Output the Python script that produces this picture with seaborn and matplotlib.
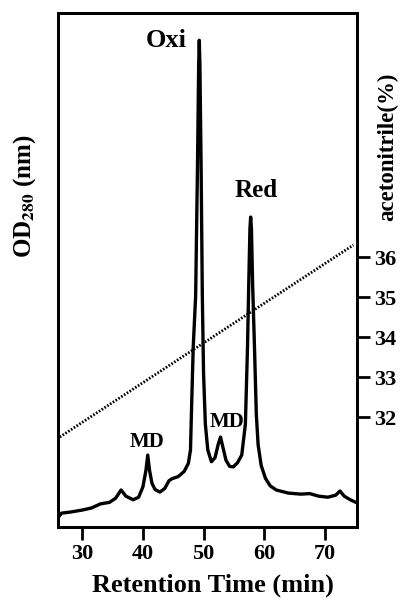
import matplotlib
matplotlib.use("Agg")
import matplotlib.pyplot as plt
import seaborn as sns
import pandas as pd

# Chromatogram (retention time in min, OD280 in relative units)
time_min = [26.0, 26.6, 28.0, 30.0, 31.5, 33.0, 34.5, 35.5, 36.4, 37.2, 38.4, 39.3,
            40.0, 40.5, 40.8, 41.1, 41.5, 42.0, 42.8, 43.6, 44.3, 44.8, 45.8, 46.8,
            47.5, 47.85, 48.0, 48.3, 48.7, 49.0, 49.2, 49.3, 49.4, 49.6, 49.8, 50.0,
            50.3, 50.7, 51.3, 51.9, 52.4, 52.8, 53.2, 53.7, 54.3, 54.9, 55.6, 56.3,
            56.9, 57.25, 57.45, 57.65, 57.77, 57.9, 58.1, 58.4, 58.7, 59.0, 59.5,
            60.2, 61.0, 62.0, 64.0, 66.0, 67.5, 69.0, 70.5, 71.8, 72.5, 73.2, 74.2, 75.3]
od280 = [0.018, 0.027, 0.029, 0.033, 0.037, 0.045, 0.048, 0.056, 0.072, 0.060, 0.053, 0.058,
         0.078, 0.110, 0.140, 0.110, 0.085, 0.073, 0.068, 0.075, 0.090, 0.094, 0.098, 0.108,
         0.124, 0.150, 0.220, 0.350, 0.450, 0.700, 0.900, 0.947, 0.900, 0.700, 0.450, 0.300,
         0.200, 0.150, 0.127, 0.135, 0.160, 0.175, 0.155, 0.130, 0.118, 0.117, 0.125, 0.140,
         0.200, 0.350, 0.470, 0.580, 0.603, 0.580, 0.470, 0.350, 0.220, 0.160, 0.120,
         0.095, 0.080, 0.072, 0.066, 0.064, 0.065, 0.060, 0.058, 0.062, 0.070, 0.060, 0.053, 0.047]

# Acetonitrile gradient (%)
grad_time = [26.3, 74.7]
grad_acn = [31.5, 36.3]

x_ticks = [30, 40, 50, 60, 70]
acn_ticks = [32, 33, 34, 35, 36]

peak_labels = ["Oxi", "Red", "MD", "MD"]
peak_label_t = [43.8, 58.6, 40.7, 53.95]
peak_label_v = [0.934, 0.642, 0.156, 0.195]
peak_label_size = [19, 18, 15, 15]

sns.set_style("ticks")
plt.rcParams["font.family"] = ["Liberation Serif", "DejaVu Serif"]
plt.rcParams["font.weight"] = "bold"
plt.rcParams["mathtext.fontset"] = "stix"
for k in ["text.color", "axes.labelcolor", "xtick.color", "ytick.color", "axes.edgecolor"]:
    plt.rcParams[k] = "black"

fig = plt.figure(figsize=(4.01, 5.98), dpi=100)
ax = fig.add_axes([0.1446, 0.1187, 0.7456, 0.8595])

df = pd.DataFrame({"t": time_min, "od": od280})
sns.lineplot(data=df, x="t", y="od", ax=ax, color="black", linewidth=2.4, sort=False)
ax.set_xlim(26.0, 75.3)
ax.set_ylim(0, 1)
ax.set_yticks([])
ax.set_xticks(x_ticks)
ax.set_xticklabels([str(v) for v in x_ticks], fontsize=16, fontweight="bold")
ax.tick_params(axis="x", direction="out", length=9, width=2, pad=3)
for s in ax.spines.values():
    s.set_linewidth(2)
    s.set_visible(True)
    s.set_color("black")

ax.set_xlabel("Retention Time (min)", fontsize=19, fontweight="bold")
ax.xaxis.label.set_va("baseline")
ax.xaxis.set_label_coords(0.518, -0.126)
ax.set_ylabel(r"OD$_{\mathbf{280}}$ (nm)", fontsize=18, fontweight="bold")
ax.yaxis.set_label_coords(-0.068, 0.644)

for lab, t, v, fs in zip(peak_labels, peak_label_t, peak_label_v, peak_label_size):
    ax.text(t, v, lab, ha="center", va="baseline", fontsize=fs, fontweight="bold")

ax2 = ax.twinx()
gdf = pd.DataFrame({"t": grad_time, "acn": grad_acn})
sns.lineplot(data=gdf, x="t", y="acn", ax=ax2, color="black", linewidth=2.0,
             linestyle=(0, (0.6, 0.6)))
ax2.set_ylim(29.25, 42.1)
ax2.set_yticks(acn_ticks)
ax2.set_yticklabels([str(v) for v in acn_ticks], fontsize=16, fontweight="bold")
ax2.tick_params(axis="y", direction="out", length=9, width=2, pad=3)
ax2.set_xlabel("")
ax2.set_ylabel("acetonitrile(%)", fontsize=16.5, fontweight="bold")
ax2.yaxis.set_label_coords(1.066, 0.739)
for s in ax2.spines.values():
    s.set_linewidth(2)
    s.set_color("black")

fig.savefig("out.png", dpi=100, facecolor="white")
